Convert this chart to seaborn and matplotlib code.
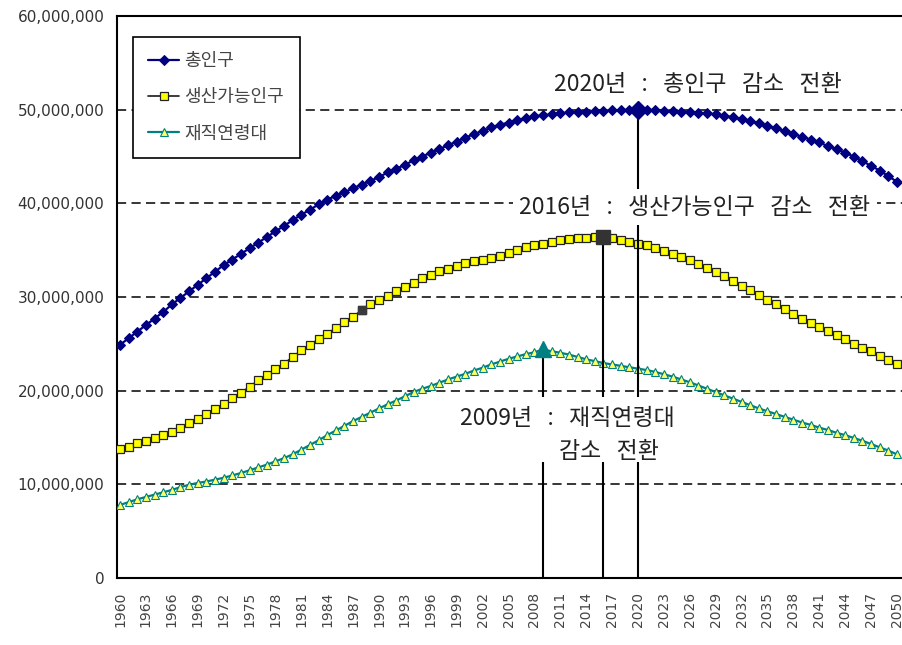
import pandas as pd
import matplotlib
matplotlib.use("Agg")
import matplotlib.pyplot as plt
import seaborn as sns
from matplotlib.ticker import FuncFormatter
from matplotlib.patches import Rectangle

# --- data (millions of people) ---
years = list(range(1960, 2051))

total_pop = [
    24.9, 25.6, 26.3, 27.0, 27.7, 28.4, 29.2, 29.9, 30.6, 31.3,
    32.0, 32.7, 33.4, 34.0, 34.6, 35.2, 35.8, 36.4, 37.0, 37.6,
    38.2, 38.8, 39.3, 39.9, 40.4, 40.8, 41.2, 41.6, 42.0, 42.4,
    42.8, 43.3, 43.7, 44.1, 44.6, 45.0, 45.4, 45.8, 46.2, 46.6,
    47.0, 47.4, 47.7, 48.1, 48.4, 48.6, 48.9, 49.1, 49.3, 49.4,
    49.5, 49.6, 49.7, 49.75, 49.8, 49.85, 49.9, 49.93, 49.96, 49.98,
    50.0, 49.98, 49.95, 49.9, 49.85, 49.8, 49.75, 49.68, 49.6, 49.5,
    49.35, 49.2, 49.0, 48.8, 48.55, 48.3, 48.0, 47.7, 47.4, 47.1,
    46.8, 46.5, 46.1, 45.8, 45.4, 45.0, 44.5, 44.0, 43.5, 42.9,
    42.3,
]

working_age = [
    13.8, 14.0, 14.4, 14.6, 14.9, 15.3, 15.6, 16.0, 16.5, 17.0,
    17.5, 18.0, 18.6, 19.2, 19.8, 20.4, 21.1, 21.7, 22.3, 22.9,
    23.6, 24.3, 24.9, 25.5, 26.1, 26.7, 27.3, 27.9, 28.6, 29.2,
    29.7, 30.1, 30.6, 31.1, 31.5, 32.0, 32.4, 32.8, 33.0, 33.3,
    33.6, 33.8, 34.0, 34.2, 34.4, 34.7, 35.0, 35.3, 35.5, 35.7,
    35.9, 36.1, 36.2, 36.3, 36.35, 36.4, 36.45, 36.3, 36.1, 35.9,
    35.7, 35.5, 35.2, 34.9, 34.6, 34.3, 33.9, 33.5, 33.1, 32.7,
    32.2, 31.7, 31.2, 30.7, 30.2, 29.7, 29.2, 28.7, 28.2, 27.7,
    27.2, 26.8, 26.4, 25.9, 25.5, 25.0, 24.6, 24.2, 23.7, 23.3,
    22.8,
]

employed_age = [
    7.8, 8.1, 8.4, 8.65, 8.9, 9.15, 9.4, 9.7, 9.95, 10.15,
    10.3, 10.5, 10.7, 10.95, 11.2, 11.5, 11.8, 12.1, 12.45, 12.8,
    13.2, 13.7, 14.2, 14.7, 15.25, 15.75, 16.25, 16.75, 17.2, 17.65,
    18.1, 18.55, 18.95, 19.4, 19.85, 20.2, 20.5, 20.85, 21.2, 21.5,
    21.8, 22.15, 22.45, 22.8, 23.1, 23.4, 23.65, 23.9, 24.1, 24.4,
    24.2, 24.05, 23.85, 23.6, 23.35, 23.15, 22.95, 22.8, 22.65, 22.5,
    22.35, 22.2, 22.0, 21.75, 21.5, 21.2, 20.9, 20.55, 20.2, 19.85,
    19.5, 19.15, 18.8, 18.45, 18.1, 17.8, 17.5, 17.2, 16.9, 16.6,
    16.35, 16.05, 15.8, 15.5, 15.25, 14.95, 14.65, 14.3, 13.95, 13.6,
    13.2,
]

series_names = ["총인구", "생산가능인구", "재직연령대"]
turn_years = [2020, 2016, 2009]   # peak year of each series
odd_marker_year = 1988             # darker square on the working-age line

sns.set_style("white")
plt.rcParams['font.family'] = ['Noto Sans CJK KR', 'DejaVu Sans']

df = pd.DataFrame({"year": years, "총인구": total_pop,
                   "생산가능인구": working_age, "재직연령대": employed_age})
long_df = df.melt(id_vars="year", var_name="구분", value_name="인구")
long_df["인구"] = long_df["인구"] * 1_000_000

styles = {
    "총인구": dict(color="#000080", marker="D", markersize=4.8,
                markerfacecolor="#000080", markeredgecolor="#000080", lw=1.6),
    "생산가능인구": dict(color="#1a1a1a", marker="s", markersize=5.5,
                   markerfacecolor="#FFFF00", markeredgecolor="#222222",
                   markeredgewidth=0.9, lw=1.2),
    "재직연령대": dict(color="#008080", marker="^", markersize=5.2,
                  markerfacecolor="#FFFF66", markeredgecolor="#008080",
                  markeredgewidth=0.8, lw=1.6),
}

fig = plt.figure(figsize=(9.02, 6.45), dpi=100)
ax = fig.add_axes([117 / 902, 67 / 645, 785 / 902, 562 / 645])

for name in series_names:
    sns.lineplot(data=long_df[long_df["구분"] == name], x="year", y="인구",
                 ax=ax, label=name, zorder=3, **styles[name])

# peak markers + vertical drop lines
big = [("D", "#000080", 9), ("s", "#333333", 10), ("^", "#008080", 11)]
for name, yr, (mk, col, ms) in zip(series_names, turn_years, big):
    val = df.loc[df["year"] == yr, name].iloc[0] * 1_000_000
    ax.vlines(yr, 0, val, color="black", lw=1.5, zorder=4)
    ax.plot([yr], [val], marker=mk, color=col, ms=ms, zorder=5, ls="none")

odd_val = df.loc[df["year"] == odd_marker_year, "생산가능인구"].iloc[0] * 1_000_000
ax.plot([odd_marker_year], [odd_val], marker="s", color="#3a3a3a", ms=5.5, zorder=5)

# annotations
txt = dict(ha="center", va="center", fontsize=16.5, color="#222222", zorder=6)
ax.text(2026.9, 52.7e6, "2020년   :   총인구   감소   전환", **txt)
ax.text(2026.6, 39.6e6, "2016년   :   생산가능인구   감소   전환",
        bbox=dict(facecolor="white", edgecolor="none", pad=5), **txt)
# white block behind the two-line 2009 label (hides the drop lines)
ax.add_patch(Rectangle((2007.3, 12.4e6), 14.5, 6.9e6, facecolor="white",
                       edgecolor="none", zorder=4.5))
ax.text(2011.8, 17.0e6, "2009년   :   재직연령대", **txt)
ax.text(2016.6, 13.5e6, "감소   전환", **txt)

# axes
ax.set_xlim(1959.65, 2050.58)
ax.set_ylim(0, 60e6)
ax.set_yticks(range(0, 60_000_001, 10_000_000))
ax.yaxis.set_major_formatter(FuncFormatter(lambda v, p: f"{int(v):,}"))
ax.set_xticks(years[::3])
ax.set_xticks(years, minor=True)
ax.set_xticklabels([str(y) for y in years[::3]], rotation=90,
                   fontsize=10, color="#444444", family="DejaVu Sans")
for lab in ax.get_yticklabels():
    lab.set_family("DejaVu Sans")
ax.tick_params(axis="x", which="both", direction="in", length=4, width=1, color="black")
ax.tick_params(axis="x", which="major", pad=10)
ax.tick_params(axis="y", length=0, pad=9, labelsize=11, labelcolor="#333333")
ax.set_xlabel("")
ax.set_ylabel("")

ax.yaxis.grid(True, linestyle=(0, (6, 3.5)), color="black", lw=1.1)
ax.set_axisbelow(True)
for s in ["left", "bottom", "top"]:
    ax.spines[s].set_color("black")
    ax.spines[s].set_linewidth(1.5)
ax.spines["right"].set_visible(False)

leg = ax.legend(loc="upper left", bbox_to_anchor=(133 / 902, 1 - 37 / 645),
                bbox_transform=fig.transFigure, borderaxespad=0, fontsize=13,
                frameon=True, fancybox=False, framealpha=1, edgecolor="black",
                labelspacing=1.0, handlelength=1.7, borderpad=0.85, handletextpad=0.3)
leg.get_frame().set_linewidth(1.2)
for t in leg.get_texts():
    t.set_color("#444444")

fig.savefig("out.png", dpi=100)
